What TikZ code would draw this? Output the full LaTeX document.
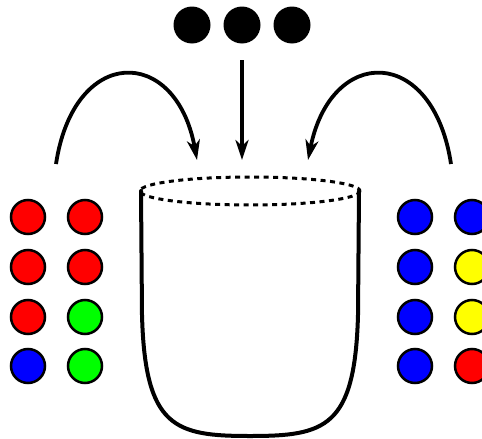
\documentclass[tikz,border=0pt]{standalone}
\usetikzlibrary{arrows.meta}
\definecolor{cred}{RGB}{255,0,0}
\definecolor{cgreen}{RGB}{0,255,0}
\definecolor{cblue}{RGB}{0,0,255}
\definecolor{cyellow}{RGB}{255,255,0}
\begin{document}
\begin{tikzpicture}[x=1pt,y=-1pt,
  ball/.style={circle,draw=black,line width=2.5pt,minimum size=34pt,inner sep=0pt},
  dot/.style={circle,fill=black,minimum size=37pt,inner sep=0pt},
  flow/.style={line width=3.8pt,-{Stealth[length=20pt,width=13pt,inset=6pt]}},
  cup/.style={line width=4pt,line cap=round}]
\useasboundingbox (0,0) rectangle (482,439);
% left balls
\node[ball,fill=cred]   (l11) at (28,217) {};
\node[ball,fill=cred]   (l12) at (85,217) {};
\node[ball,fill=cred]   (l21) at (28,267) {};
\node[ball,fill=cred]   (l22) at (85,267) {};
\node[ball,fill=cred]   (l31) at (28,317) {};
\node[ball,fill=cgreen] (l32) at (85,317) {};
\node[ball,fill=cblue]  (l41) at (28,366) {};
\node[ball,fill=cgreen] (l42) at (85,366) {};
% right balls
\node[ball,fill=cblue]   (r11) at (415,217) {};
\node[ball,fill=cblue]   (r12) at (472,217) {};
\node[ball,fill=cblue]   (r21) at (415,267) {};
\node[ball,fill=cyellow] (r22) at (472,267) {};
\node[ball,fill=cblue]   (r31) at (415,317) {};
\node[ball,fill=cyellow] (r32) at (472,317) {};
\node[ball,fill=cblue]   (r41) at (415,366) {};
\node[ball,fill=cred]    (r42) at (472,366) {};
% top dots
\node[dot] (d1) at (192,25) {};
\node[dot] (d2) at (242,25) {};
\node[dot] (d3) at (292,25) {};
% arrow anchors
\coordinate (ms) at (242,60);
\coordinate (me) at (242,160);
\coordinate (ls) at (56,164);
\coordinate (le) at (197,160);
\coordinate (rs) at (451,164);
\coordinate (re) at (308,160);
\draw[flow] (ms) -- (me);
\draw[flow] (ls) .. controls (74,45) and (176,45) .. (le);
\draw[flow] (rs) .. controls (433,45) and (331,45) .. (re);
% cup
\draw[line width=3pt,dash pattern=on 5pt off 4.5pt] (250,191) ellipse [x radius=110, y radius=14];
\draw[cup] (141,191) -- (142,315) .. controls (145,428) and (175,436) .. (250,436)
  .. controls (325,436) and (355,428) .. (358,315) -- (359,191);
\end{tikzpicture}
\end{document}
